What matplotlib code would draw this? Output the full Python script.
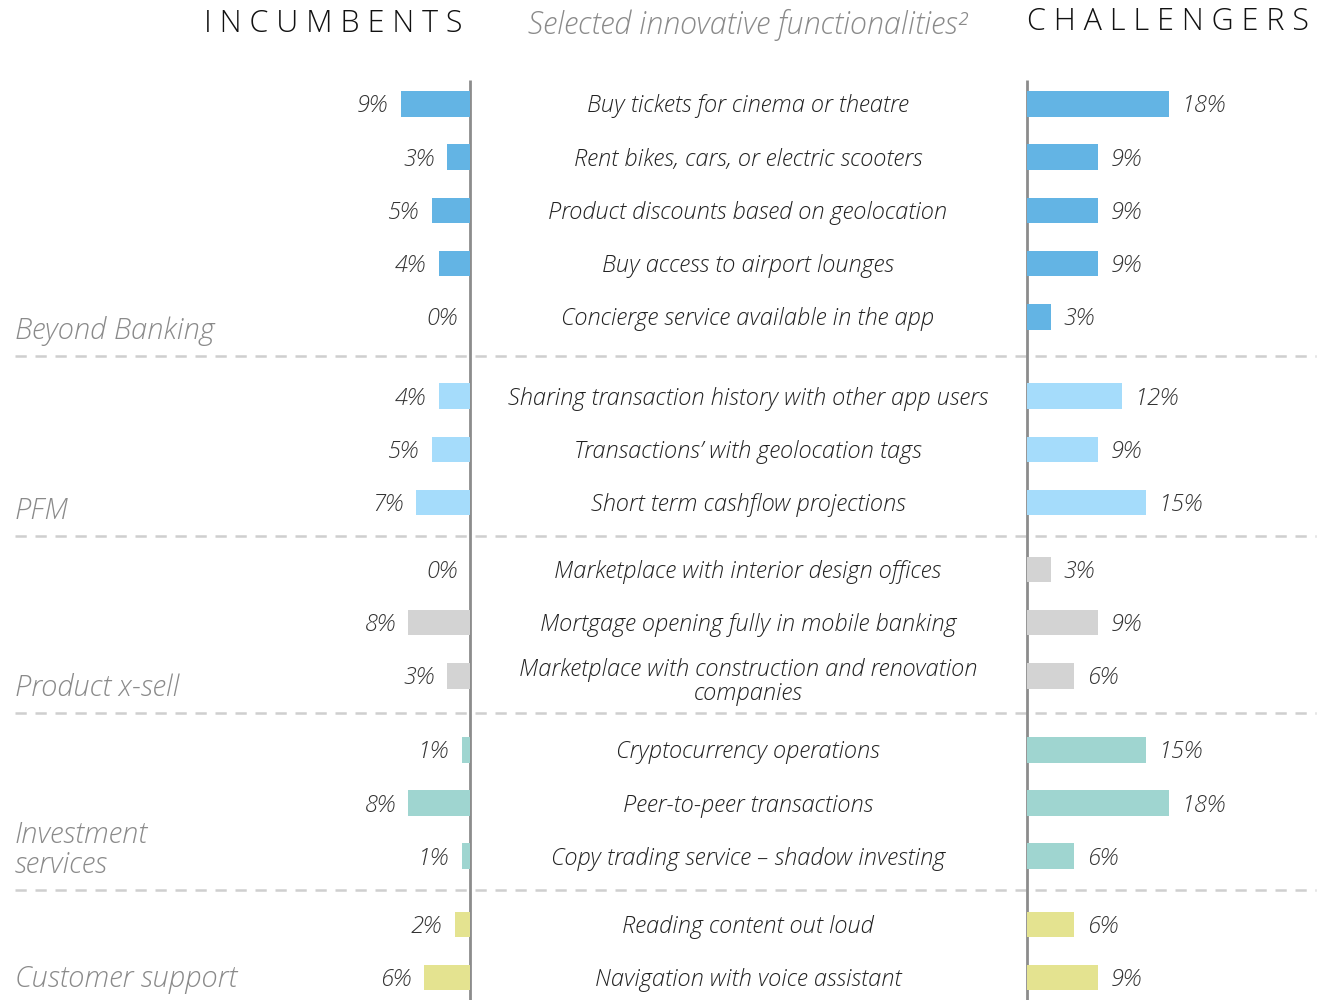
import matplotlib
matplotlib.use("Agg")
import matplotlib.pyplot as plt
import numpy as np

# ---------------- data ----------------
groups = ["Beyond Banking", "PFM", "Product x-sell", "Investment\nservices", "Customer support"]
group_sizes = [5, 3, 3, 3, 2]
functionalities = [
    "Buy tickets for cinema or theatre",
    "Rent bikes, cars, or electric scooters",
    "Product discounts based on geolocation",
    "Buy access to airport lounges",
    "Concierge service available in the app",
    "Sharing transaction history with other app users",
    "Transactions\u2019 with geolocation tags",
    "Short term cashflow projections",
    "Marketplace with interior design offices",
    "Mortgage opening fully in mobile banking",
    "Marketplace with construction and renovation\ncompanies",
    "Cryptocurrency operations",
    "Peer-to-peer transactions",
    "Copy trading service \u2013 shadow investing",
    "Reading content out loud",
    "Navigation with voice assistant",
]
incumbents = [9, 3, 5, 4, 0, 4, 5, 7, 0, 8, 3, 1, 8, 1, 2, 6]
challengers = [18, 9, 9, 9, 3, 12, 9, 15, 3, 9, 6, 15, 18, 6, 6, 9]
group_colors = ["#63B4E4", "#A5DCFB", "#D3D3D3", "#9FD5D0", "#E4E390"]

# ---------------- layout ----------------
W, H = 1317, 1000
row_px = 53.2
first_row_px = 104
gaps = [0.49, 0.26, 0.39, 0.28]
left_axis_px = 470
right_axis_px = 1027
px_per_pct_l = 7.7
px_per_pct_r = 7.9
text_dy = 2.5 / row_px

font = "Open Sans"
plt.rcParams["font.family"] = [font, "DejaVu Sans"]

# row positions (row units)
pos = []
gid = []
k = 0
off = 0.0
for g, n in enumerate(group_sizes):
    if g > 0:
        off += gaps[g - 1]
    for i in range(n):
        pos.append(k + off)
        gid.append(g)
        k += 1
pos = np.array(pos)
colors = [group_colors[g] for g in gid]

y_top = -first_row_px / row_px
y_bot = (H - first_row_px) / row_px

fig = plt.figure(figsize=(W / 100, H / 100), dpi=100)

bg = fig.add_axes([0, 0, 1, 1])
bg.set_xlim(0, W)
bg.set_ylim(y_bot, y_top)
bg.axis("off")

ax_l = fig.add_axes([0, 0, left_axis_px / W, 1])
ax_l.set_xlim(left_axis_px / px_per_pct_l, 0)
ax_l.set_ylim(y_bot, y_top)
ax_l.axis("off")
ax_l.patch.set_alpha(0)

rw = 290
ax_r = fig.add_axes([right_axis_px / W, 0, rw / W, 1])
ax_r.set_xlim(0, rw / px_per_pct_r)
ax_r.set_ylim(y_bot, y_top)
ax_r.axis("off")
ax_r.patch.set_alpha(0)

bar_h = 25.5 / row_px
ax_l.barh(pos, incumbents, height=bar_h, color=colors, zorder=2)
ax_r.barh(pos, challengers, height=bar_h, color=colors, zorder=2)

lab_kw = dict(fontsize=17, style="italic", fontweight="light", color="#333333", va="center")
for p, v in zip(pos, incumbents):
    ax_l.text(v + 13 / px_per_pct_l, p + text_dy, f"{v}%", ha="right", **lab_kw)
for p, v in zip(pos, challengers):
    ax_r.text(v + 13 / px_per_pct_r, p + text_dy, f"{v}%", ha="left", **lab_kw)

# functionality labels
for p, t in zip(pos, functionalities):
    dy = 0.12 if "\n" in t else text_dy
    bg.text(748, p + dy, t, ha="center", va="center", fontsize=17, style="italic",
            fontweight="light", color="#222222", linespacing=1.02)

# vertical axis lines
axis_top = y_top + 80 / row_px
for x in (left_axis_px, right_axis_px):
    bg.plot([x, x], [axis_top, y_bot], color="#8C8C8C", lw=2, zorder=3, solid_capstyle="butt")

# separators and group labels
ends = np.cumsum(group_sizes) - 1
for g in range(len(groups)):
    last = pos[ends[g]]
    if g < len(groups) - 1:
        nxt = pos[ends[g] + 1]
        sep = (last + nxt) / 2
        bg.plot([15, 1316], [sep, sep], color="#CFCFCF", lw=1.8, ls=(0, (4.5, 3.5)), zorder=1)
    else:
        sep = last + 0.5
    bg.text(15, sep - 17 / row_px, groups[g], ha="left", va="baseline", fontsize=21,
            style="italic", fontweight="light", color="#8A8A8A", linespacing=1.05)

# headers
fig.text(333 / W, 1 - 24 / H, "I N C U M B E N T S", ha="center", va="center",
         fontsize=22, fontweight="light", color="#111111")
fig.text(748 / W, 1 - 25 / H, "Selected innovative functionalities\u00b2", ha="center", va="center",
         fontsize=22, style="italic", fontweight="light", color="#8A8A8A")
fig.text(1168 / W, 1 - 22 / H, "C H A L L E N G E R S", ha="center", va="center",
         fontsize=22, fontweight="light", color="#111111")

fig.savefig("out.png", dpi=100)
